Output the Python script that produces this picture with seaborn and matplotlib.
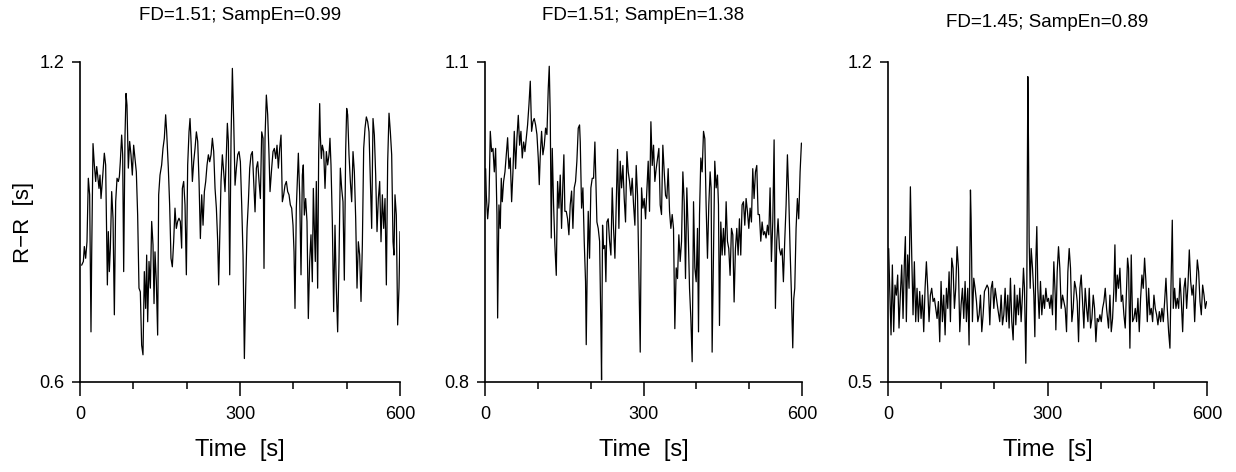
"""
Three R-R interval series with their fractal dimension / sample entropy.
"""

import matplotlib
matplotlib.use("Agg")
import matplotlib.pyplot as plt
import seaborn as sns

# ---- data ---------------------------------------------------------------
titles = ["FD=1.51; SampEn=0.99", "FD=1.51; SampEn=1.38", "FD=1.45; SampEn=0.89"]
y_ranges = [(0.6, 1.2), (0.8, 1.1), (0.5, 1.2)]
x_major = [0, 300, 600]
x_minor = [100, 200, 400, 500]

t1 = [3.1, 6.3, 8.1, 10.6, 13.1, 15.6, 18.1, 20.6, 21.9, 24.4, 26.9, 29.4, 31.3, 33.1,
      35.6, 37.5, 39.4, 41.9, 45.6, 48.1, 51.3, 53.1, 55.0, 56.9, 59.4, 61.9, 64.4, 66.9,
      69.4, 71.9, 73.8, 75.6, 78.1, 80.0, 81.9, 84.4, 86.3, 88.1, 90.6, 93.1, 95.6, 98.1,
      100.6, 103.1, 105.6, 108.1, 110.6, 113.1, 115.6, 118.1, 120.6, 123.1, 125.0, 126.9,
      129.4, 131.9, 134.4, 136.9, 138.8, 140.6, 143.1, 145.6, 147.5, 150.0, 153.1, 155.6,
      158.1, 160.6, 162.5, 165.6, 168.1, 170.6, 173.1, 175.6, 178.1, 180.6, 183.1, 185.6,
      188.1, 190.6, 191.9, 194.4, 196.9, 199.4, 201.9, 204.4, 206.3,
      208.2, 210.7, 213.2, 215.7, 218.2, 220.7, 223.2, 225.7, 228.2, 230.7, 233.2, 235.7,
      238.2, 240.7, 243.2, 245.7, 248.2, 250.7, 253.2, 255.7, 258.2, 260.0, 261.9, 264.4,
      266.9, 269.4, 271.9, 274.4, 276.3, 278.2, 280.7, 283.2, 285.7, 288.2, 290.7, 293.2,
      295.7, 298.2, 300.7, 303.2, 305.7, 308.2, 310.7, 313.2, 315.7, 318.2, 320.7, 323.2,
      325.7, 328.2, 330.7, 333.2, 335.7, 338.2, 340.7, 343.2, 345.0, 346.9, 349.4, 351.9,
      354.4, 356.3, 359.4, 361.9, 364.4, 366.9, 369.4, 371.9, 374.4, 376.9, 379.4, 381.9,
      384.4, 386.9, 389.4, 391.9, 394.4, 396.9, 399.4, 401.3, 403.1, 405.6,
      409.4, 411.9, 414.4, 416.9, 418.7, 420.6, 423.1, 425.6, 428.1, 430.6, 433.1, 435.6,
      437.5, 439.4, 441.2, 443.1, 445.6, 447.5, 449.4, 450.6, 452.5, 454.4, 456.9, 459.4,
      461.9, 464.4, 466.9, 468.7, 470.6, 473.1, 475.6, 478.1, 480.6, 483.1, 485.6, 488.1,
      490.6, 493.1, 495.6, 498.1, 500.0, 501.9, 504.4, 506.9, 509.4, 511.9, 514.4, 516.9,
      519.4, 521.9, 524.4, 526.9, 529.4, 531.9, 534.4, 536.9, 539.4, 541.9, 544.4, 546.9,
      549.4, 551.9, 554.4, 556.9, 559.4, 561.9, 564.4, 566.9, 569.4, 571.9, 574.4, 576.9,
      579.4, 581.9, 584.4, 586.9, 588.7, 590.6, 593.1, 595.6, 598.1, 600.0]
rr1 = [0.819, 0.826, 0.854, 0.832, 0.863, 0.982, 0.951, 0.694, 0.838, 1.047, 1.007, 0.976,
       1.004, 0.988, 0.963, 0.988, 0.944, 0.976, 1.029, 1.007, 0.782, 0.882, 0.807, 0.851,
       0.957, 0.907, 0.726, 0.938, 0.982, 0.976, 0.985, 1.013, 1.063, 1.026, 0.807, 1.063,
       1.141, 1.119, 1.001, 1.051, 1.026, 0.988, 1.044, 1.019, 0.994, 0.913, 0.776, 0.769,
       0.669, 0.651, 0.807, 0.738, 0.838, 0.713, 0.826, 0.776, 0.901, 0.857, 0.747, 0.844,
       0.788, 0.688, 0.951, 0.988, 1.007, 1.038, 1.057, 1.101, 1.069, 1.001, 0.932, 0.832,
       0.816, 0.863, 0.926, 0.888, 0.901, 0.907, 0.901, 0.851, 0.963, 0.976, 0.932, 0.801,
       1.007, 1.069, 1.094,
       1.051, 0.976, 1.013, 1.038, 1.069, 1.051, 0.976, 0.869, 0.951, 0.894, 0.957, 0.976,
       1.007, 1.026, 1.013, 1.026, 1.057, 1.032, 0.963, 0.926, 0.863, 0.782, 0.863, 0.976,
       1.026, 0.994, 0.957, 1.026, 1.085, 1.051, 0.801, 1.057, 1.188, 1.088, 0.969, 1.001,
       1.026, 1.032, 1.013, 0.932, 0.838, 0.644, 0.776, 0.888, 0.938, 1.001, 1.026, 1.032,
       0.976, 0.919, 1.001, 1.013, 0.976, 0.944, 1.069, 1.057, 0.813, 1.057, 1.138, 1.101,
       1.026, 0.957, 1.001, 1.032, 1.038, 1.019, 1.044, 1.001, 1.038, 1.063, 0.938, 0.951,
       0.969, 0.976, 0.957, 0.951, 0.932, 0.926, 0.894, 0.844, 0.738, 0.926,
       1.029, 0.951, 0.801, 0.988, 1.007, 0.913, 0.944, 0.901, 0.719, 0.826, 0.876, 0.788,
       0.963, 0.888, 0.826, 0.976, 0.776, 1.026, 1.122, 1.063, 1.019, 1.044, 1.032, 0.963,
       1.032, 1.007, 1.026, 1.057, 1.007, 0.901, 0.732, 0.894, 0.776, 0.694, 0.826, 1.001,
       0.963, 0.938, 0.791, 1.032, 1.113, 1.101, 1.026, 0.976, 0.938, 1.032, 0.994, 0.907,
       0.776, 0.863, 0.838, 0.751, 0.857, 1.038, 1.076, 1.097, 1.088, 1.069, 0.976, 0.888,
       1.094, 1.063, 0.988, 0.882, 0.944, 0.976, 0.863, 0.951, 0.888, 0.944, 0.782, 1.013,
       1.104, 1.069, 1.026, 0.863, 0.838, 0.951, 0.913, 0.707, 0.776, 0.882]

t2 = [1.2, 2.5, 5.0, 7.5, 10.0, 12.5, 15.1, 17.6, 20.1, 22.6, 23.9, 26.4, 28.9, 30.8, 32.7,
      35.2, 37.8, 40.3, 42.8, 45.3, 47.8, 50.4, 52.9, 55.4, 57.9, 60.5, 63.0, 65.5, 68.0,
      70.5, 73.1, 75.6, 78.1, 80.6, 83.2, 85.7, 88.2, 90.7, 93.2, 95.8, 98.3, 100.8, 102.7,
      104.6, 107.1, 109.6, 112.2, 114.7, 117.2, 119.7, 121.6, 123.5, 125.4, 127.3, 129.8,
      132.3, 134.9, 137.4, 139.9, 142.4, 144.9, 147.5, 149.3, 151.2, 153.8, 156.3, 158.8,
      161.3, 163.9, 166.4, 168.9, 171.4, 173.9, 176.5, 179.0, 180.3, 182.8, 185.3, 187.8,
      190.3, 191.6, 193.5, 195.4, 197.9, 200.4, 203.0, 205.5, 208.0,
      211.8, 214.3, 216.9, 219.4, 220.6, 222.5, 224.4, 226.9, 228.8, 230.7, 233.2, 235.8,
      238.3, 240.8, 243.3, 245.9, 248.4, 250.9, 253.4, 255.9, 258.5, 261.0, 263.5, 266.0,
      268.6, 271.1, 273.6, 276.1, 278.6, 281.2, 283.7, 286.2, 288.7, 291.3, 293.8, 296.3,
      298.8, 301.3, 303.9, 306.4, 308.9, 311.4, 314.0, 316.5, 319.0, 321.5, 324.0, 326.6,
      329.1, 331.6, 334.1, 336.6, 339.2, 341.7, 344.2, 346.7, 349.3, 351.8, 354.3, 356.8,
      359.3, 361.9, 364.4, 366.9, 369.4, 372.0, 374.5, 377.0, 379.5, 382.0, 384.6, 387.1,
      389.6, 392.1, 394.7, 397.2, 399.7, 402.2, 404.1, 406.0, 408.5, 411.0, 413.6, 416.1,
      418.5, 421.1, 423.6, 426.1, 428.0, 429.9, 432.4, 434.9, 437.5, 440.0, 441.9, 443.8,
      446.3, 448.8, 451.3, 453.9, 456.4, 458.9, 461.4, 463.9, 466.5, 469.0, 471.5, 474.0,
      476.6, 479.1, 481.6, 484.1, 486.6, 489.2, 491.7, 494.2, 496.7, 499.3, 501.8, 504.3,
      506.8, 509.3, 511.9, 514.4, 516.9, 519.4, 522.0, 524.5, 527.0, 529.5, 532.0, 534.6,
      537.1, 539.6, 542.1, 544.7, 547.2, 549.7, 552.2, 554.7, 557.3, 559.8, 562.3, 564.8,
      567.3, 569.9, 572.4, 574.9, 577.4, 580.0, 582.5, 584.4, 586.3, 588.8, 591.3, 593.8,
      596.4, 598.9]
rr2 = [1.000, 0.975, 0.953, 0.969, 1.035, 1.016, 1.019, 0.997, 1.019, 0.957, 0.860, 0.966,
       0.944, 0.991, 0.969, 0.988, 0.997, 1.013, 1.029, 1.000, 1.010, 0.969, 0.997, 1.035,
       1.000, 1.029, 1.050, 1.022, 1.035, 1.010, 1.025, 1.016, 1.029, 1.041, 1.060, 1.082,
       1.035, 1.044, 1.047, 1.041, 1.032, 1.010, 0.985, 1.013, 1.035, 1.013, 1.022, 1.038,
       1.032, 1.075, 1.096, 1.050, 0.935, 1.019, 0.966, 0.928, 0.900, 0.988, 0.963, 0.994,
       0.944, 0.988, 1.013, 0.960, 0.960, 0.953, 0.938, 0.966, 0.979, 0.944, 0.982, 0.988,
       1.007, 1.038, 1.041, 1.025, 0.963, 0.982, 0.932, 0.894, 0.835, 0.907, 0.960, 0.916,
       0.982, 0.991, 0.991, 1.025,
       0.950, 0.944, 0.932, 0.850, 0.802, 0.947, 0.925, 0.928, 0.894, 0.950, 0.953, 0.932,
       0.919, 0.982, 0.944, 0.916, 0.966, 1.018, 0.944, 1.007, 0.982, 1.003, 0.972, 0.950,
       1.016, 0.997, 0.988, 0.975, 0.991, 0.966, 0.947, 1.003, 0.975, 0.900, 0.828, 0.982,
       0.963, 0.972, 0.953, 0.979, 1.007, 0.960, 1.044, 1.003, 1.022, 0.988, 1.000, 1.010,
       1.019, 0.966, 0.957, 1.022, 0.997, 0.975, 0.972, 1.000, 0.960, 0.944, 0.957, 0.944,
       0.850, 0.907, 0.897, 0.938, 0.913, 0.932, 0.997, 0.969, 0.897, 0.982, 0.941, 0.888,
       0.860, 0.819, 0.969, 0.907, 0.894, 0.944, 0.847, 0.957, 1.010, 0.997, 1.035, 1.028,
       0.966, 0.916, 0.966, 0.997, 0.982, 0.828, 0.919, 1.007, 0.982, 0.994, 0.966, 0.853,
       0.950, 0.919, 0.944, 0.919, 0.969, 0.932, 0.925, 0.900, 0.944, 0.938, 0.875, 0.925,
       0.944, 0.919, 0.953, 0.919, 0.966, 0.969, 0.947, 0.972, 0.960, 0.944, 0.963, 0.950,
       1.000, 0.972, 0.997, 1.003, 0.957, 0.957, 0.932, 0.950, 0.938, 0.941, 0.935, 0.947,
       0.938, 0.982, 0.913, 0.950, 1.027, 0.869, 0.932, 0.953, 0.925, 0.919, 0.925, 0.894,
       0.932, 0.966, 1.013, 0.975, 0.925, 0.882, 0.832, 0.878, 0.888, 0.944, 0.972, 0.953,
       0.997, 1.024]

t3 = [1.3, 3.2, 5.7, 8.2, 10.7, 13.2, 15.7, 18.2, 20.7, 23.2, 25.8, 28.3, 30.8, 32.7, 34.5,
      37.0, 39.6, 42.1, 44.6, 47.1, 49.6, 52.1, 54.6, 57.1, 59.6, 62.2, 64.7, 67.2, 69.7,
      72.2, 74.7, 77.2, 79.7, 82.2, 84.8, 87.3, 89.8, 92.3, 94.8, 97.3, 99.8, 102.3, 104.8,
      107.4, 109.9, 112.4, 114.9, 117.4, 119.9, 122.4, 124.9, 127.4, 129.9, 132.5, 135.0,
      137.5, 140.0, 142.5, 145.0, 147.5, 150.0, 152.5, 155.1, 156.3, 158.8, 161.3, 163.8,
      166.4, 168.9, 171.4, 173.9, 176.4, 178.9, 181.4, 183.9, 186.4, 188.9, 191.5, 194.0,
      196.5, 199.0, 201.5, 204.0, 206.5,
      210.2, 212.8, 215.3, 217.8, 220.3, 222.8, 225.3, 227.8, 230.3, 232.9, 235.4, 237.9,
      240.4, 242.9, 245.4, 247.9, 250.4, 252.9, 254.8, 256.7, 259.2, 261.1, 263.0, 264.2,
      265.5, 267.4, 269.3, 271.8, 274.3, 276.2, 278.0, 279.9, 281.8, 284.3, 286.8, 289.3,
      291.9, 294.4, 296.9, 299.4, 301.9, 304.4, 306.9, 309.4, 311.9, 314.5, 315.7, 318.2,
      320.7, 323.2, 325.7, 328.3, 330.8, 333.3, 335.8, 338.3, 340.8, 343.3, 345.8, 348.3,
      350.9, 353.4, 355.9, 358.4, 360.9, 363.4, 365.9, 368.4, 370.9, 373.5, 376.0, 378.5,
      381.0, 383.5, 386.0, 388.5, 391.0, 393.5, 396.1, 398.6, 401.1, 403.6, 406.1, 408.6,
      411.1, 414.8, 417.4, 419.9, 422.4, 424.9, 426.8, 428.7, 431.2, 433.7, 436.2, 438.7,
      441.2, 443.7, 446.2, 448.7, 450.6, 452.5, 455.0, 457.5, 460.0, 462.5, 465.1, 467.6,
      470.1, 472.6, 475.1, 477.6, 480.1, 482.6, 485.1, 487.7, 490.2, 492.7, 495.2, 497.7,
      500.2, 502.7, 505.2, 507.7, 510.3, 512.8, 515.3, 517.8, 520.3, 522.8, 525.3, 527.8,
      530.3, 532.2, 534.7, 536.6, 539.1, 541.6, 544.1, 546.7, 549.2, 551.7, 554.2, 556.7,
      559.2, 561.7, 564.2, 566.7, 569.3, 571.8, 574.3, 576.8, 579.3, 581.8, 584.3, 586.8,
      589.3, 591.8, 594.4, 596.9, 599.4]
rr3 = [0.792, 0.705, 0.603, 0.756, 0.610, 0.712, 0.690, 0.734, 0.618, 0.690, 0.756, 0.639,
       0.763, 0.818, 0.632, 0.778, 0.705, 0.927, 0.778, 0.647, 0.763, 0.632, 0.705, 0.632,
       0.698, 0.639, 0.690, 0.610, 0.705, 0.763, 0.705, 0.632, 0.690, 0.705, 0.676, 0.683,
       0.661, 0.639, 0.676, 0.588, 0.720, 0.632, 0.690, 0.603, 0.705, 0.661, 0.741, 0.632,
       0.771, 0.749, 0.661, 0.705, 0.796, 0.749, 0.610, 0.669, 0.705, 0.639, 0.720, 0.632,
       0.705, 0.581, 0.920, 0.858, 0.632, 0.727, 0.705, 0.676, 0.632, 0.647, 0.690, 0.610,
       0.647, 0.698, 0.705, 0.712, 0.705, 0.625, 0.705, 0.720, 0.661, 0.705, 0.683, 0.661,
       0.632, 0.690, 0.625, 0.647, 0.705, 0.632, 0.690, 0.618, 0.727, 0.632, 0.592, 0.712,
       0.625, 0.690, 0.647, 0.705, 0.632, 0.690, 0.749, 0.705, 0.541, 0.705, 1.168, 1.026,
       0.807, 0.705, 0.792, 0.749, 0.690, 0.599, 0.763, 0.840, 0.705, 0.639, 0.720, 0.647,
       0.690, 0.661, 0.705, 0.676, 0.683, 0.661, 0.690, 0.647, 0.763, 0.690, 0.614, 0.741,
       0.796, 0.749, 0.661, 0.690, 0.676, 0.661, 0.610, 0.741, 0.792, 0.749, 0.632, 0.661,
       0.720, 0.705, 0.676, 0.588, 0.705, 0.734, 0.676, 0.618, 0.705, 0.661, 0.632, 0.705,
       0.618, 0.639, 0.690, 0.661, 0.588, 0.639, 0.632, 0.647, 0.632, 0.661, 0.676, 0.705,
       0.661, 0.618, 0.690, 0.610, 0.639, 0.705, 0.800, 0.676, 0.734, 0.705, 0.749, 0.676,
       0.690, 0.647, 0.618, 0.705, 0.771, 0.749, 0.574, 0.778, 0.632, 0.639, 0.661, 0.632,
       0.683, 0.610, 0.683, 0.734, 0.705, 0.771, 0.720, 0.632, 0.705, 0.647, 0.661, 0.632,
       0.690, 0.661, 0.647, 0.625, 0.654, 0.632, 0.661, 0.632, 0.676, 0.727, 0.661, 0.610,
       0.574, 0.705, 0.854, 0.661, 0.705, 0.661, 0.683, 0.661, 0.727, 0.676, 0.610, 0.705,
       0.727, 0.661, 0.712, 0.789, 0.720, 0.690, 0.712, 0.632, 0.705, 0.767, 0.741, 0.676,
       0.647, 0.712, 0.690, 0.661, 0.676]

series = [(t1, rr1), (t2, rr2), (t3, rr3)]

# ---- figure --------------------------------------------------------------
sns.set_style("ticks")
plt.rcParams["font.family"] = ["Liberation Sans", "DejaVu Sans"]
plt.rcParams.update({"text.color": "black", "axes.labelcolor": "black",
                     "xtick.color": "black", "ytick.color": "black"})

W, H = 1236, 472
fig, axes = plt.subplots(1, 3, figsize=(W / 100, H / 100), dpi=100)

# axes boxes in pixels: left, right (top 62, bottom 382)
boxes = [(80, 400), (485, 802), (888, 1207)]
title_pads = [30, 30, 25]

for i, ax in enumerate(axes):
    t, rr = series[i]
    sns.lineplot(x=t, y=rr, ax=ax, color="black", linewidth=0.9, sort=False)

    x0, x1 = boxes[i]
    ax.set_position([x0 / W, 1 - 382 / H, (x1 - x0) / W, 320 / H])

    lo, hi = y_ranges[i]
    ax.set_ylim(lo, hi)
    ax.set_yticks([lo, hi], [f"{lo:.1f}", f"{hi:.1f}"])
    ax.set_xlim(0, 600)
    ax.set_xticks(x_major, [str(v) for v in x_major])
    ax.set_xticks(x_minor, minor=True)

    ax.tick_params(axis="both", which="major", direction="out", width=1.1,
                   labelsize=13, colors="black")
    ax.tick_params(axis="x", which="major", length=10, pad=7)
    ax.tick_params(axis="y", which="major", length=6, pad=5)
    ax.tick_params(axis="x", which="minor", direction="out", length=5, width=1.1)

    for side in ["left", "bottom"]:
        ax.spines[side].set_linewidth(1.2)
        ax.spines[side].set_color("black")
    sns.despine(ax=ax)

    ax.set_title(titles[i], fontsize=13.5, pad=title_pads[i], color="black")
    ax.set_xlabel("Time  [s]", fontsize=17, labelpad=12)
    ax.set_ylabel("")

axes[0].set_ylabel("R\u2212R  [s]", fontsize=16, labelpad=4)

plt.savefig("out.png", dpi=100)
plt.close()
